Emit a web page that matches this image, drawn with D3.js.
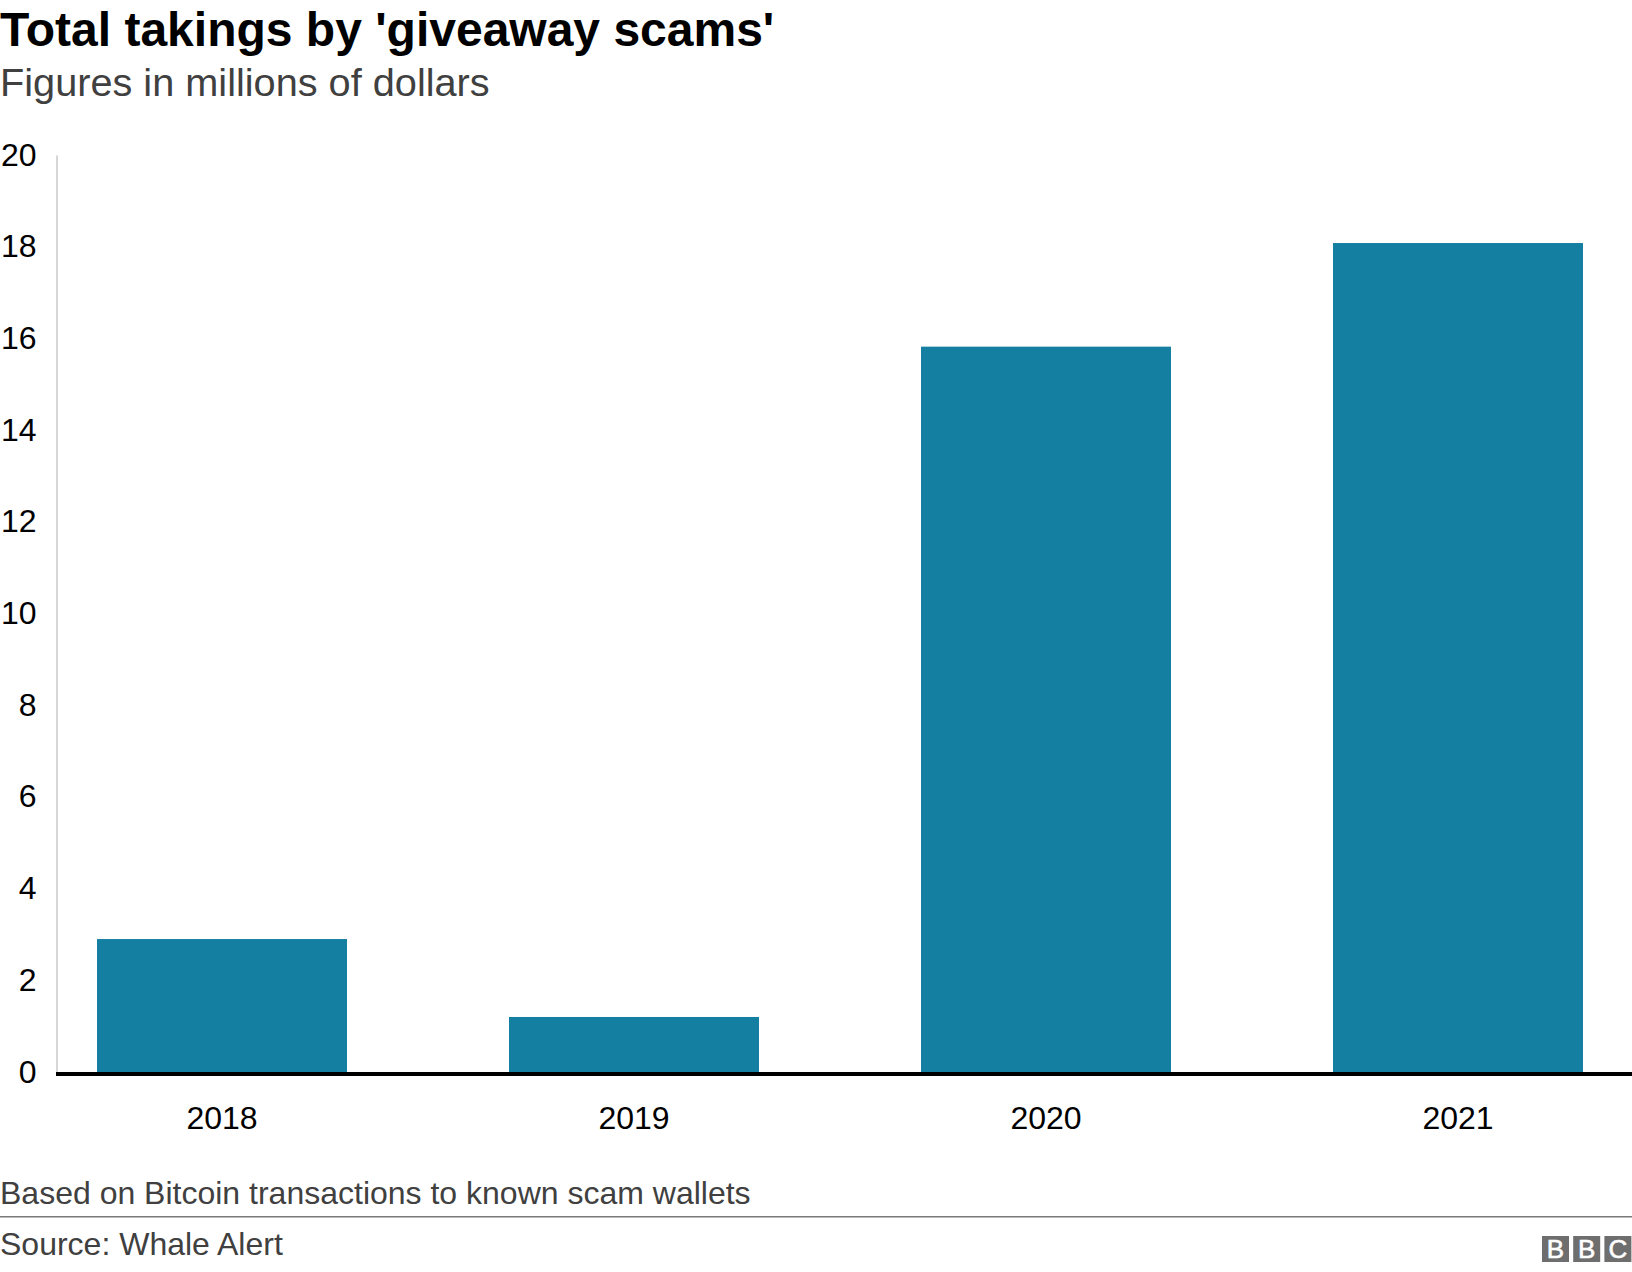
<!DOCTYPE html>
<html><head><meta charset="utf-8">
<script src="https://cdn.jsdelivr.net/npm/d3@7"></script>
<style>
html,body{margin:0;padding:0;background:#fff}
svg{display:block}
text{font-family:"Liberation Sans",Arial,sans-serif}
</style></head><body>
<svg id="c" width="1632" height="1272"></svg>
<script>
const categories = ["2018","2019","2020","2021"];
const values = [2.9,1.2,15.82,18.08];
const yTicks = [0,2,4,6,8,10,12,14,16,18,20];
const titleText = "Total takings by 'giveaway scams'";
const subtitleText = "Figures in millions of dollars";
const noteText = "Based on Bitcoin transactions to known scam wallets";
const sourceText = "Source: Whale Alert";
const logoLetters = ["B","B","C"];

const svg = d3.select("#c");
const y = d3.scaleLinear().domain([0,20]).range([1072,155]);
const x = d3.scaleBand().domain(categories).range([16,1664]).paddingInner(162/412).paddingOuter(81/412);

function label(t,xp,yp,size,fill,weight){
  return svg.append("text").attr("x",xp).attr("y",yp).attr("font-size",size).attr("fill",fill)
    .attr("font-weight",weight||"normal").text(t);
}
label(titleText,0,45.6,48,"#000","bold");
label(subtitleText,0,95.6,39.7,"#404040");

svg.selectAll("rect.bar").data(values).join("rect").attr("class","bar")
  .attr("x",(d,i)=>x(categories[i])).attr("width",x.bandwidth())
  .attr("y",d=>y(d)).attr("height",d=>y(0)-y(d)).attr("fill","#157FA2");

const gy = svg.append("g").attr("transform","translate(56.5,0)")
  .call(d3.axisLeft(y).tickValues(yTicks).tickSize(0).tickPadding(20));
gy.select(".domain").attr("stroke","#c8c8c8").attr("stroke-width",1.5);
gy.selectAll("text").attr("font-size",32).attr("fill","#000")
  .attr("font-family","Liberation Sans").attr("dy",null)
  .attr("y",10);

const gx = svg.append("g").attr("transform","translate(0,1074)")
  .call(d3.axisBottom(x).tickSize(0).tickPadding(0));
gx.select(".domain").remove();
gx.selectAll("text").attr("font-size",32).attr("fill","#000")
  .attr("font-family","Liberation Sans").attr("dy",null).attr("y",55);

svg.append("line").attr("x1",56).attr("x2",1632).attr("y1",1074).attr("y2",1074).attr("stroke","#000").attr("stroke-width",4);

label(noteText,0,1203.6,32,"#404040");
svg.append("line").attr("x1",0).attr("x2",1632).attr("y1",1216.7).attr("y2",1216.7).attr("stroke","#7a7a7a").attr("stroke-width",1.5);
label(sourceText,0,1255.4,32,"#404040");

const logo = svg.append("g").selectAll("g").data(logoLetters).join("g")
  .attr("transform",(d,i)=>`translate(${1542+i*31.2},1236)`);
logo.append("rect").attr("width",27).attr("height",26).attr("fill","#6e6e6e");
logo.append("text").attr("x",13.5).attr("y",22).attr("text-anchor","middle")
  .attr("font-size",26).attr("fill","#fff").attr("stroke","#fff").attr("stroke-width",0.6).text(d=>d);
</script>
</body></html>
